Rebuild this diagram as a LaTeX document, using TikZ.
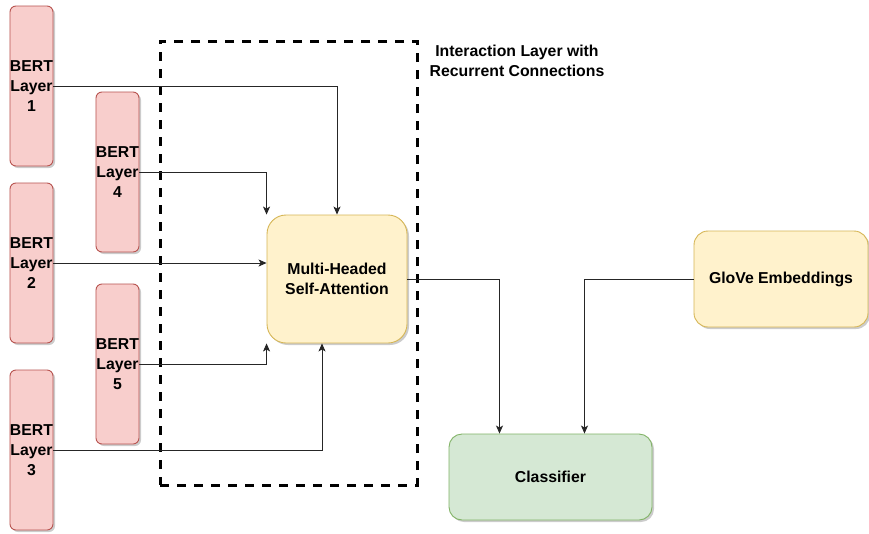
\documentclass[tikz,border=0pt]{standalone}
\usepackage{fontspec}
\setmainfont{Liberation Sans}
\usetikzlibrary{arrows.meta,shadows}
\definecolor{redfill}{HTML}{F8CECC}
\definecolor{reddraw}{HTML}{B85450}
\definecolor{yelfill}{HTML}{FFF2CC}
\definecolor{yeldraw}{HTML}{D6B656}
\definecolor{grnfill}{HTML}{D5E8D4}
\definecolor{grndraw}{HTML}{82B366}
\begin{document}
\begin{tikzpicture}[x=1pt,y=-1pt,
  txt/.style={font=\bfseries\fontsize{15.8}{19.8}\selectfont, align=center, inner sep=0pt},
  box/.style={txt, draw, rounded corners=#1, line width=0.9pt,
    drop shadow={shadow xshift=2pt,shadow yshift=-2pt,opacity=0.2,fill=black}},
  bert/.style={box=6pt, fill=redfill, draw=reddraw, minimum width=43pt, minimum height=160pt},
  yel/.style={box=#1, fill=yelfill, draw=yeldraw},
  grn/.style={box=#1, fill=grnfill, draw=grndraw},
  frame/.style={draw=black, line width=3pt, dash pattern=on 9pt off 8pt, inner sep=0pt},
  conn/.style={draw=black!85, line width=0.8pt, -{Stealth[length=8pt,width=7pt,inset=2pt]}}
]
\useasboundingbox (0,0) rectangle (869,533);
\fill[white] (0,0) rectangle (869,533);

\node[frame, minimum width=257pt, minimum height=444pt] (fr) at (288.5,263) {};
\node[txt] (lbl) at (517,61) {Interaction Layer with\\Recurrent Connections};

\node[bert] (b1) at (31.5,86) {BERT\\Layer\\1};
\node[bert] (b4) at (117.5,172) {BERT\\Layer\\4};
\node[bert] (b2) at (31.5,263) {BERT\\Layer\\2};
\node[bert] (b5) at (117.5,364) {BERT\\Layer\\5};
\node[bert] (b3) at (31.5,450) {BERT\\Layer\\3};

\node[yel=19pt, minimum width=140pt, minimum height=128pt] (att) at (337,279) {Multi-Headed\\Self-Attention};
\node[grn=13pt, minimum width=203pt, minimum height=86pt] (cls) at (550.5,477) {Classifier};
\node[yel=14pt, minimum width=174pt, minimum height=96pt] (glove) at (781,279) {GloVe Embeddings};

\draw[conn] (b1.east) -| (att.north);
\draw[conn] (b4.east) -| (att.north west);
\draw[conn] (b2.east) -- (b2.east -| att.west);
\draw[conn] (b5.east) -| (att.south west);
\draw[conn] (b3.east) -| ([xshift=-15pt]att.south);
\draw[conn] (att.east) -| ([xshift=-51pt]cls.north);
\draw[conn] (glove.west) -| ([xshift=34pt]cls.north);
\end{tikzpicture}
\end{document}
